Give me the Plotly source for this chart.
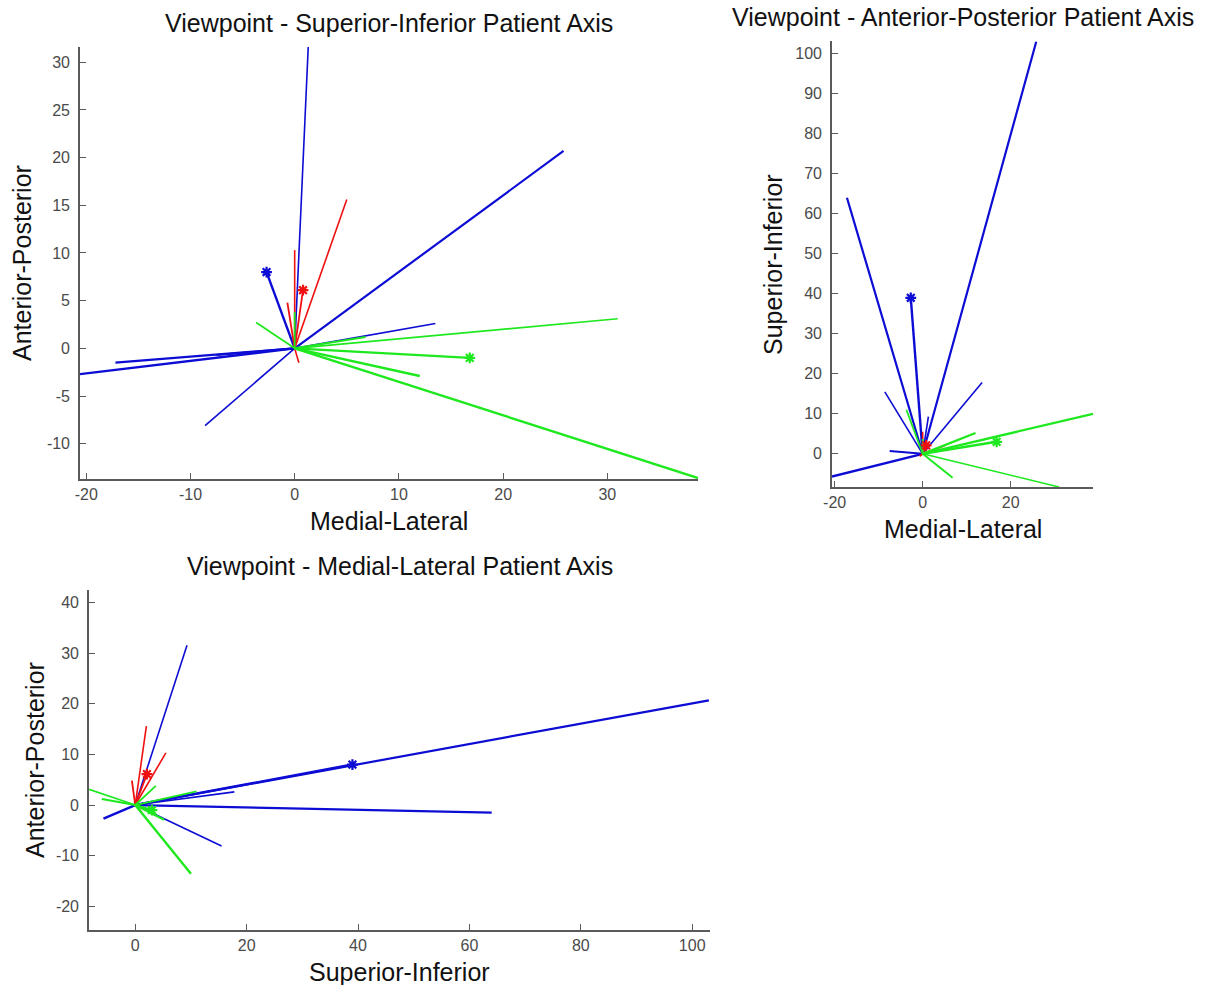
import plotly.graph_objects as go

# 3-D direction vectors (patient axes), read from the three projections
vec_names = ["B1", "B2", "B3", "B4", "B5", "B6", "B7", "B8",
             "R1", "R2", "R3", "R4", "R5",
             "G1", "G2", "G3", "G4", "G5", "G6", "G7"]
vec_ml = [25.8, 1.3, 13.5, -8.6, -20.6, -17.2, -7.5, -2.7,
          5.0, 0.0, -0.7, 0.4, 0.8,
          38.7, 31.0, 16.8, 12.0, -3.7, 6.8, 0.0]
vec_ap = [20.7, 31.6, 2.6, -8.1, -2.7, -1.5, -0.7, 8.0,
          15.6, 10.3, 4.8, -1.5, 6.1,
          -13.6, 3.1, -1.0, -2.9, 2.7, 1.2, 3.8]
vec_si = [103.0, 9.3, 17.8, 15.5, -5.7, 64.0, 0.7, 39.0,
          2.0, 5.5, -0.6, 1.2, 2.1,
          10.0, -8.3, 3.0, 5.2, 11.0, -6.0, 3.7]
vec_group = ["blue"] * 8 + ["red"] * 5 + ["green"] * 7
vec_star = [False] * 7 + [True] + [False] * 4 + [True] + [False, False, True] + [False] * 4
vec_width = [2.2, 1.6, 1.6, 1.6, 2.4, 2.2, 2.0, 2.4,
             1.6, 1.6, 1.8, 1.6, 1.8,
             2.4, 1.6, 2.4, 2.4, 1.8, 2.0, 1.8]

colors = {"blue": "#0c0cd4", "red": "#f01010", "green": "#1ee81e"}

views = [
    dict(title="Viewpoint - Superior-Inferior Patient Axis", xa="x", ya="y",
         hx=vec_ml, hy=vec_ap, xlab="Medial-Lateral", ylab="Anterior-Posterior",
         xr=[-20.6, 38.7], yr=[-13.7, 31.6], xd=[80, 698], yd=[47, 479],
         ylx=22,
         xt=[-20, -10, 0, 10, 20, 30], yt=[-10, -5, 0, 5, 10, 15, 20, 25, 30]),
    dict(title="Viewpoint - Anterior-Posterior Patient Axis", xa="x2", ya="y2",
         hx=vec_ml, hy=vec_si, xlab="Medial-Lateral", ylab="Superior-Inferior",
         xr=[-20.6, 38.7], yr=[-8.3, 103.2], xd=[832, 1093], yd=[41, 487],
         ylx=773,
         xt=[-20, 0, 20], yt=[0, 10, 20, 30, 40, 50, 60, 70, 80, 90, 100]),
    dict(title="Viewpoint - Medial-Lateral Patient Axis", xa="x3", ya="y3",
         hx=vec_si, hy=vec_ap, xlab="Superior-Inferior", ylab="Anterior-Posterior",
         xr=[-8.3, 103.2], yr=[-24.7, 42.5], xd=[89, 710], yd=[590, 930],
         ylx=35,
         xt=[0, 20, 40, 60, 80, 100], yt=[-20, -10, 0, 10, 20, 30, 40]),
]

W, H = 1218, 985
fig = go.Figure()
font = "Liberation Sans, Arial, sans-serif"

layout = dict(width=W, height=H, margin=dict(l=0, r=0, t=0, b=0, autoexpand=False),
              template="none",
              paper_bgcolor="white", plot_bgcolor="white", showlegend=False,
              annotations=[])

for k, v in enumerate(views):
    for i in range(len(vec_names)):
        fig.add_trace(go.Scatter(
            x=[0, v["hx"][i]], y=[0, v["hy"][i]], mode="lines",
            line=dict(color=colors[vec_group[i]], width=vec_width[i]),
            xaxis=v["xa"], yaxis=v["ya"], hoverinfo="skip"))
    for i in range(len(vec_names)):
        if vec_star[i]:
            c = colors[vec_group[i]]
            fig.add_trace(go.Scatter(
                x=[v["hx"][i]], y=[v["hy"][i]], mode="markers",
                marker=dict(symbol="asterisk-open", size=9, color=c,
                            line=dict(color=c, width=2.2)),
                xaxis=v["xa"], yaxis=v["ya"], hoverinfo="skip"))
    suffix = "" if k == 0 else str(k + 1)
    axis_common = dict(showgrid=False, zeroline=False, showline=True,
                       automargin=False, mirror=False,
                       linecolor="#5a5a5a", linewidth=1.6, ticks="inside",
                       ticklen=6, tickcolor="#5a5a5a", tickwidth=1.3,
                       tickfont=dict(family=font, size=16, color="#4a4a4a"))
    layout["xaxis" + suffix] = dict(
        axis_common, range=v["xr"], tickvals=v["xt"],
        ticktext=[str(t) for t in v["xt"]], ticklabelstandoff=0,
        domain=[v["xd"][0] / W, v["xd"][1] / W],
        anchor="y" + suffix)
    layout["yaxis" + suffix] = dict(
        axis_common, range=v["yr"], tickvals=v["yt"],
        ticktext=[str(t) for t in v["yt"]], ticklabelstandoff=5,
        domain=[1 - v["yd"][1] / H, 1 - v["yd"][0] / H],
        anchor="x" + suffix)
    cx = (v["xd"][0] + v["xd"][1]) / 2
    cy = (v["yd"][0] + v["yd"][1]) / 2
    ann = dict(xref="paper", yref="paper", showarrow=False,
               xanchor="center", yanchor="middle")
    layout["annotations"] += [
        dict(ann, text=v["title"], x=cx / W, y=1 - (v["yd"][0] - 24) / H,
             font=dict(family=font, size=25, color="#111111")),
        dict(ann, text=v["xlab"], x=cx / W, y=1 - (v["yd"][1] + 42) / H,
             font=dict(family=font, size=25, color="#111111")),
        dict(ann, text=v["ylab"], x=v["ylx"] / W, y=1 - cy / H,
             textangle=-90,
             font=dict(family=font, size=25, color="#111111")),
    ]

fig.update_layout(**layout)
fig.write_html(
    "out.html",
    config={"displayModeBar": False},
    post_script="document.body.style.margin='0';document.body.style.overflow='hidden';")
